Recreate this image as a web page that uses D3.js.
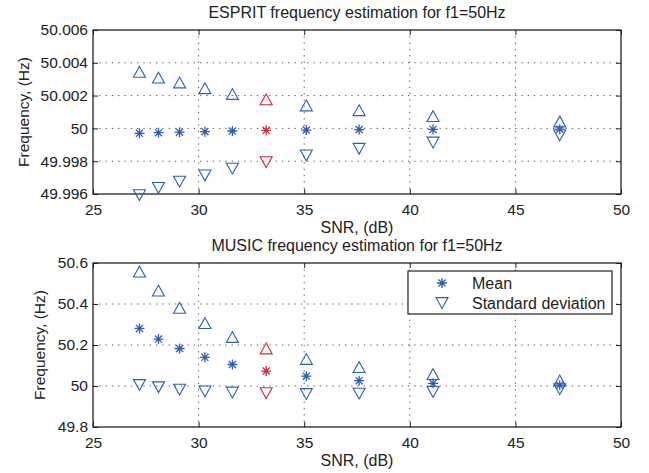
<!DOCTYPE html>
<meta charset="utf-8">
<style>
  body { margin: 0; background: #fff; }
  text { font-family: "Liberation Sans", Arial, sans-serif; fill: #222; }
</style>
<svg width="649" height="473"></svg>

<script src="https://d3js.org/d3.v7.min.js"></script>
<script>

	// SNR values (dB) shared by both panels
	var snr = [27.2, 28.1, 29.1, 30.3, 31.6, 33.2, 35.1, 37.6, 41.1, 47.1];
	var highlight = 5; // the red point

	// ESPRIT estimates
	var espritMean  = [49.9997, 49.99974, 49.99977, 49.9998, 49.99984, 49.99988, 49.9999, 49.99993, 49.99994, 49.99995];
	var espritUpper = [50.00345, 50.0031, 50.0028, 50.00245, 50.0021, 50.00177, 50.0014, 50.00111, 50.00075, 50.00042];
	var espritLower = [49.99593, 49.99637, 49.99675, 49.99713, 49.99755, 49.99794, 49.99835, 49.99876, 49.99914, 49.99957];

	// MUSIC estimates
	var musicMean  = [50.281, 50.229, 50.183, 50.140, 50.105, 50.073, 50.048, 50.026, 50.013, 50.004];
	var musicUpper = [50.558, 50.465, 50.381, 50.307, 50.239, 50.183, 50.132, 50.092, 50.058, 50.027];
	var musicLower = [50.005, 49.994, 49.982, 49.974, 49.968, 49.965, 49.961, 49.963, 49.971, 49.985];

	// axes
	var xTicks = [25, 30, 35, 40, 45, 50];
	var espritTicks = [49.996, 49.998, 50, 50.002, 50.004, 50.006];
	var musicTicks = [49.8, 50, 50.2, 50.4, 50.6];

	var blue = "#2b5fb4", red = "#d42a3a";

	var svg = d3.select("svg"),
		margin = {left: 93},
		width = 528,
		height = 164;

	var x = d3.scaleLinear().domain([25, 50]).range([0, width]);

	// marker shapes
	function triUp(s) { return "M0," + (-s * 0.45) + "L" + (s / 2) + "," + (s * 0.45) + "L" + (-s / 2) + "," + (s * 0.45) + "Z"; }
	function triDown(s) { return "M0," + (s * 0.45) + "L" + (s / 2) + "," + (-s * 0.45) + "L" + (-s / 2) + "," + (-s * 0.45) + "Z"; }
	function star(r) {
		var d = r * 0.7071;
		return "M" + (-r) + ",0H" + r + "M0," + (-r) + "V" + r +
			"M" + (-d) + "," + (-d) + "L" + d + "," + d + "M" + (-d) + "," + d + "L" + d + "," + (-d);
	}

	function panel(top, title, yTicks, digits, mean, upper, lower, ylabelX, legend) {
		var y = d3.scaleLinear().domain([yTicks[0], yTicks[yTicks.length - 1]]).range([height, 0]);
		var fmt = function(d) { return String(+d.toFixed(digits)); };

		var g = svg.append("g").attr("transform", "translate(" + margin.left + "," + top + ")");

		// GRID
		g.append("g").selectAll("line").data(xTicks.slice(1, -1)).enter().append("line")
			.attr("x1", x).attr("x2", x).attr("y1", 0).attr("y2", height)
			.attr("stroke", "#555").attr("stroke-dasharray", "1.3,5");
		g.append("g").selectAll("line").data(yTicks.slice(1, -1)).enter().append("line")
			.attr("y1", y).attr("y2", y).attr("x1", 0).attr("x2", width)
			.attr("stroke", "#555").attr("stroke-dasharray", "1.3,5");

		// AXES
		var ax = g.append("g").attr("class", "axes");
		ax.append("g").attr("transform", "translate(0," + height + ")")
			.call(d3.axisBottom(x).tickValues(xTicks).tickSize(-5).tickPadding(10));
		ax.append("g").call(d3.axisTop(x).tickValues(xTicks).tickSize(-5).tickFormat(""));
		ax.append("g").call(d3.axisLeft(y).tickValues(yTicks).tickSize(-5).tickPadding(5).tickFormat(fmt));
		ax.append("g").attr("transform", "translate(" + width + ",0)")
			.call(d3.axisRight(y).tickValues(yTicks).tickSize(-5).tickFormat(""));
		ax.selectAll(".domain").remove();
		ax.selectAll(".tick line").attr("stroke", "#222");
		ax.selectAll(".tick text").style("font-size", "15.5px").attr("fill", "#222");

		g.append("rect").attr("width", width).attr("height", height)
			.attr("fill", "none").attr("stroke", "#222").attr("stroke-width", 1.3);

		// MARKERS
		var col = function(d, i) { return i === highlight ? red : blue; };
		var pos = function(arr) { return function(d, i) { return "translate(" + x(snr[i]) + "," + y(arr[i]) + ")"; }; };
		var marks = g.append("g").attr("fill", "none").attr("stroke-width", 1.1);
		marks.selectAll(".up").data(upper).enter().append("path").attr("class", "up")
			.attr("d", triUp(12)).attr("transform", pos(upper)).attr("stroke", col);
		marks.selectAll(".down").data(lower).enter().append("path").attr("class", "down")
			.attr("d", triDown(12)).attr("transform", pos(lower)).attr("stroke", col);
		marks.selectAll(".mean").data(mean).enter().append("path").attr("class", "mean")
			.attr("d", star(5)).attr("transform", pos(mean)).attr("stroke", col).attr("stroke-width", 1.3);

		// LABELS
		svg.append("text").attr("x", margin.left + width / 2).attr("y", top - 12)
			.attr("text-anchor", "middle").style("font-size", "16px").text(title);
		svg.append("text").attr("x", margin.left + width / 2).attr("y", top + height + 39)
			.attr("text-anchor", "middle").style("font-size", "16px").text("SNR, (dB)");
		svg.append("text").attr("transform", "translate(" + ylabelX + "," + (top + height / 2) + ") rotate(-90)")
			.attr("text-anchor", "middle").attr("dy", "0.35em").style("font-size", "15.5px").text("Frequency, (Hz)");

		// LEGEND
		if (legend) {
			var lg = g.append("g").attr("transform", "translate(315,8)");
			lg.append("rect").attr("width", 204).attr("height", 43)
				.attr("fill", "#fff").attr("stroke", "#222").attr("stroke-width", 1.2);
			lg.append("path").attr("d", star(5)).attr("transform", "translate(34,12)")
				.attr("fill", "none").attr("stroke", blue).attr("stroke-width", 1.3);
			lg.append("path").attr("d", triDown(12)).attr("transform", "translate(34,32)")
				.attr("fill", "none").attr("stroke", blue).attr("stroke-width", 1.1);
			lg.append("text").attr("x", 64).attr("y", 12).attr("dy", "0.35em").style("font-size", "16px").text("Mean");
			lg.append("text").attr("x", 64).attr("y", 32).attr("dy", "0.35em").style("font-size", "16px").text("Standard deviation");
		}
	}

	panel(30, "ESPRIT frequency estimation for f1=50Hz", espritTicks, 3,
		espritMean, espritUpper, espritLower, 24, false);
	panel(263, "MUSIC frequency estimation for f1=50Hz", musicTicks, 1,
		musicMean, musicUpper, musicLower, 40, true);

</script>
